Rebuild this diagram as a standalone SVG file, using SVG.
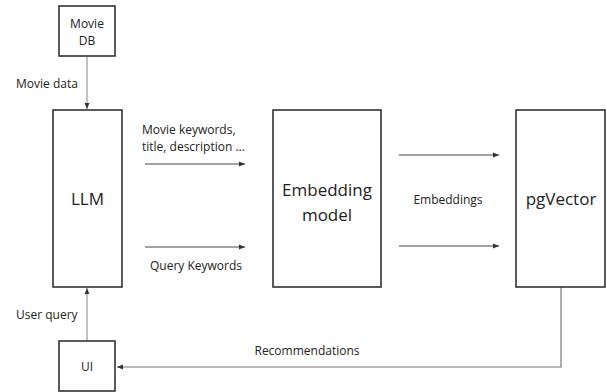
<svg xmlns="http://www.w3.org/2000/svg" width="606" height="392" viewBox="0 0 606 392">
  <style>
    text { font-family: "Open Sans", "Noto Sans", "Liberation Sans", sans-serif; fill: #222; }
    .box { fill: #fff; stroke: #333; stroke-width: 1.6; }
    .big { font-size: 17px; text-anchor: middle; }
    .small { font-size: 12px; text-anchor: middle; }
    .lbl { font-size: 12px; }
    .flow { stroke: #444; stroke-width: 1; fill: none; marker-end: url(#arr); }
    .feed { stroke: #999; stroke-width: 1.2; fill: none; marker-end: url(#arr); }
  </style>
  <defs>
    <marker id="arr" viewBox="0 0 10 10" refX="10" refY="5" markerWidth="6" markerHeight="6" markerUnits="userSpaceOnUse" orient="auto">
      <path d="M0,1 L10,5 L0,9 z" fill="#333"/>
    </marker>
  </defs>
  <rect width="606" height="392" fill="#fff"/>

  <g id="connectors">
    <line class="feed" x1="87" y1="56" x2="87" y2="109"/>
    <text class="lbl" x="16" y="88">Movie data</text>

    <line class="feed" x1="87" y1="341" x2="87" y2="288"/>
    <text class="lbl" x="16" y="319">User query</text>

    <line class="flow" x1="145" y1="164" x2="245" y2="164"/>
    <text class="lbl" x="142" y="134">Movie keywords,</text>
    <text class="lbl" x="142" y="151">title, description ...</text>

    <line class="flow" x1="145" y1="247" x2="245" y2="247"/>
    <text class="small" x="196" y="270">Query Keywords</text>

    <line class="flow" x1="399" y1="155" x2="499" y2="155"/>
    <line class="flow" x1="399" y1="246" x2="499" y2="246"/>
    <text class="small" x="448" y="204">Embeddings</text>

    <path class="feed" d="M561,287 V367 H117" style="stroke:#777"/>
    <text class="small" x="307" y="355">Recommendations</text>
  </g>

  <g id="movie-db">
    <rect class="box" x="59" y="6" width="56" height="50"/>
    <text class="small" x="87" y="28">Movie</text>
    <text class="small" x="87" y="45">DB</text>
  </g>

  <g id="llm">
    <rect class="box" x="53" y="110" width="69" height="177"/>
    <text class="big" x="87.5" y="205">LLM</text>
  </g>

  <g id="embedding-model">
    <rect class="box" x="273" y="110" width="108" height="177"/>
    <text class="big" x="327" y="196">Embedding</text>
    <text class="big" x="327" y="221">model</text>
  </g>

  <g id="pgvector">
    <rect class="box" x="516" y="110" width="89" height="177"/>
    <text class="big" x="561" y="205">pgVector</text>
  </g>

  <g id="ui">
    <rect class="box" x="59" y="341" width="56" height="50"/>
    <text class="small" x="87" y="371">UI</text>
  </g>
</svg>
